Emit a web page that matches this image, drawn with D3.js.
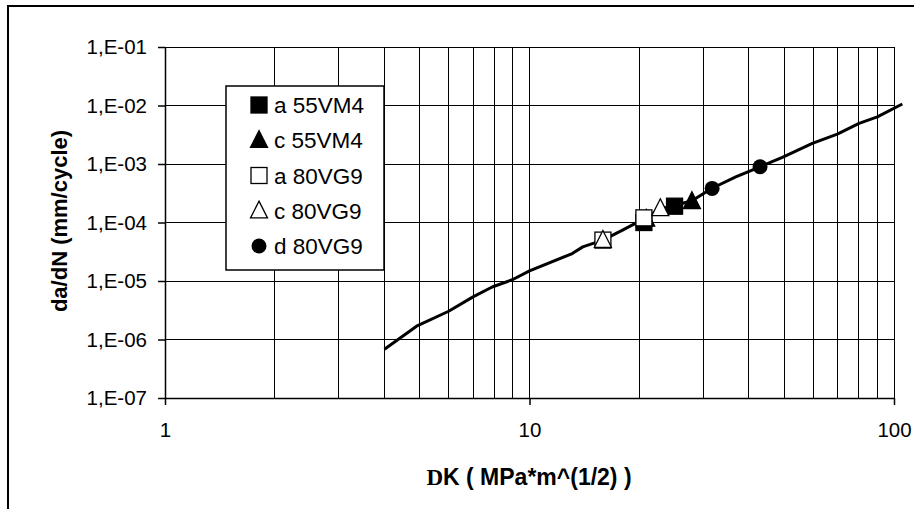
<!DOCTYPE html>
<html><head><meta charset="utf-8">
<script src="https://cdn.jsdelivr.net/npm/d3@7/dist/d3.min.js"></script>
<style>
html,body{margin:0;padding:0;background:#fff;}
svg{display:block;}
text{font-family:Arial,"Liberation Sans",sans-serif;fill:#000;}
</style></head>
<body>
<svg id="chart" width="914" height="509"></svg>
<script>
// ---- data ----
const curveX = [4.0, 4.9, 6.0, 7.0, 7.9, 9.0, 10.0, 13.1, 14.0, 15.9, 18.0, 20.6, 22.8, 25.0, 27.9, 31.7, 36.8, 42.9, 49.4, 59.7, 69.9, 80.2, 90.0, 105.4];
const curveY = [6.8e-7, 1.69e-6, 3.04e-6, 5.35e-6, 7.9e-6, 1.06e-5, 1.49e-5, 2.95e-5, 3.83e-5, 5.0e-5, 7.4e-5, 1.15e-4, 1.7e-4, 1.95e-4, 2.35e-4, 3.85e-4, 6.0e-4, 8.95e-4, 1.3e-3, 2.25e-3, 3.25e-3, 4.94e-3, 6.4e-3, 1.06e-2];

const seriesNames = ["a 55VM4", "c 55VM4", "a 80VG9", "c 80VG9", "d 80VG9"];
const seriesShapes = ["squareFilled", "triangleFilled", "squareOpen", "triangleOpen", "circleFilled"];
const a55X = [20.6, 25.0];
const a55Y = [1.0e-4, 1.9e-4];
const c55X = [20.9, 27.9];
const c55Y = [1.15e-4, 2.3e-4];
const a80X = [15.9, 20.6];
const a80Y = [5.0e-5, 1.2e-4];
const c80X = [15.9, 22.85];
const c80Y = [5.0e-5, 1.74e-4];
const d80X = [31.7, 42.9];
const d80Y = [3.83e-4, 8.95e-4];
const seriesX = [a55X, c55X, a80X, c80X, d80X];
const seriesY = [a55Y, c55Y, a80Y, c80Y, d80Y];

const xTicks = [1, 10, 100];
const yTicks = [1e-1, 1e-2, 1e-3, 1e-4, 1e-5, 1e-6, 1e-7];
const yTickLabels = ["1,E-01", "1,E-02", "1,E-03", "1,E-04", "1,E-05", "1,E-06", "1,E-07"];
const xTitleSymbol = "D";
const xTitleRest = "K ( MPa*m^(1/2) )";
const yTitle = "da/dN (mm/cycle)";

// ---- chart ----
(function () {
const svg = d3.select("#chart");
const pL = 165, pR = 894, pT = 47, pB = 398;
const x = d3.scaleLog().domain([1, 100]).range([pL, pR]);
const y = d3.scaleLog().domain([1e-7, 1e-1]).range([pB, pT]);

// outer frame
svg.append("rect").attr("x", 8).attr("y", 6).attr("width", 920).attr("height", 520)
  .attr("fill", "none").attr("stroke", "#000").attr("stroke-width", 2);

// grid
const xGrid = x.ticks();
svg.append("g").selectAll("line").data(xGrid).join("line")
  .attr("x1", d => x(d)).attr("x2", d => x(d))
  .attr("y1", pT).attr("y2", pB)
  .attr("stroke", "#000").attr("stroke-width", 1).attr("shape-rendering", "crispEdges");
svg.append("g").selectAll("line").data(yTicks).join("line")
  .attr("x1", pL).attr("x2", pR)
  .attr("y1", d => y(d)).attr("y2", d => y(d))
  .attr("stroke", "#000").attr("stroke-width", 1).attr("shape-rendering", "crispEdges");

// axes
const yAxis = d3.axisLeft(y).tickValues(yTicks)
  .tickFormat((d, i) => yTickLabels[i]).tickSize(7).tickPadding(11).tickSizeOuter(0);
const gy = svg.append("g").attr("transform", `translate(${pL},0)`).call(yAxis);
gy.selectAll("text").attr("font-size", "20.5px").attr("font-family", "Arial, 'Liberation Sans', sans-serif");

const xAxis = d3.axisBottom(x).tickValues(xTicks).tickFormat(d3.format("d"))
  .tickSize(7).tickPadding(17).tickSizeOuter(0);
const gx = svg.append("g").attr("transform", `translate(0,${pB})`).call(xAxis);
gx.selectAll("text").attr("font-size", "20.5px").attr("font-family", "Arial, 'Liberation Sans', sans-serif");
svg.selectAll(".domain").attr("stroke", "#000").attr("stroke-width", 1.5);
svg.selectAll(".tick line").attr("stroke", "#000").attr("stroke-width", 1.5);

// curve
const line = d3.line().x((d, i) => x(curveX[i])).y((d, i) => y(curveY[i]));
svg.append("path").datum(curveX).attr("d", line)
  .attr("fill", "none").attr("stroke", "#000").attr("stroke-width", 3).attr("stroke-linejoin", "round");

// markers
function drawMarker(g, shape, cx, cy) {
  const s = 16;
  if (shape.startsWith("square")) {
    g.append("rect").attr("x", cx - s / 2).attr("y", cy - s / 2).attr("width", s).attr("height", s)
      .attr("fill", shape === "squareFilled" ? "#000" : "#fff").attr("stroke", "#000").attr("stroke-width", 1.3);
  } else if (shape.startsWith("triangle")) {
    const h = 16, w = 17;
    g.append("path").attr("d", `M${cx},${cy - h * 0.6}L${cx + w / 2},${cy + h * 0.45}L${cx - w / 2},${cy + h * 0.45}Z`)
      .attr("fill", shape === "triangleFilled" ? "#000" : "#fff").attr("stroke", "#000").attr("stroke-width", 1.3);
  } else {
    g.append("circle").attr("cx", cx).attr("cy", cy).attr("r", 7.5).attr("fill", "#000");
  }
}
const mg = svg.append("g");
seriesX.forEach((xs, si) => {
  xs.forEach((xv, j) => drawMarker(mg, seriesShapes[si], x(xv), y(seriesY[si][j])));
});

// legend
const lg = svg.append("g");
lg.append("rect").attr("x", 226).attr("y", 86).attr("width", 158).attr("height", 184)
  .attr("fill", "#fff").attr("stroke", "#000").attr("stroke-width", 1.5);
seriesNames.forEach((name, i) => {
  const cy = 105 + i * 35.25;
  drawMarker(lg, seriesShapes[i], 259, cy);
  lg.append("text").attr("x", 274).attr("y", cy).attr("dy", "0.36em")
    .attr("font-size", "22.5px").text(name);
});

// axis titles
svg.append("text").attr("transform", "translate(67,221) rotate(-90)")
  .attr("text-anchor", "middle").attr("font-weight", "bold").attr("font-size", "22px").text(yTitle);
const xt = svg.append("text").attr("x", 529).attr("y", 485).attr("text-anchor", "middle")
  .attr("font-weight", "bold").attr("font-size", "23px");
xt.append("tspan").attr("font-family", "'Liberation Serif', 'Times New Roman', serif").text(xTitleSymbol);
xt.append("tspan").text(xTitleRest);
})();
</script>
</body></html>
